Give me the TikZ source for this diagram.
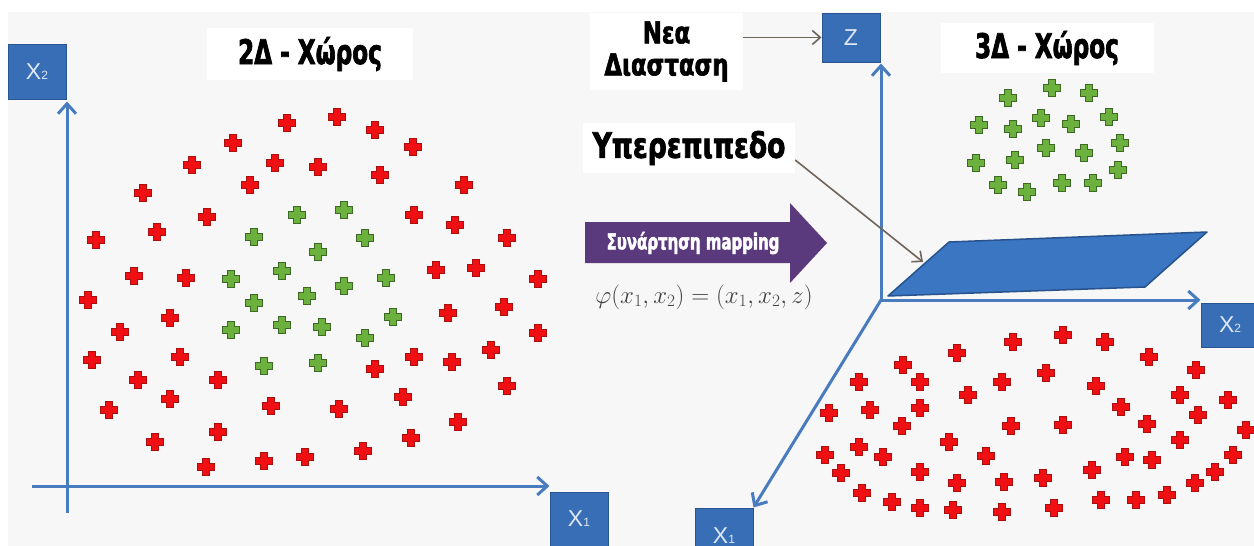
\documentclass[tikz,border=0pt]{standalone}
\usepackage{fontspec}
\usetikzlibrary{arrows.meta}
\newfontfamily\cond[FakeStretch=0.68, FakeBold=2]{DejaVu Sans Bold}
\newfontfamily\condw[FakeStretch=0.76, FakeBold=2]{DejaVu Sans Bold}
\newfontfamily\arl{Liberation Sans}
\definecolor{bgc}{RGB}{247,247,247}
\definecolor{axc}{RGB}{72,124,190}
\definecolor{boxc}{RGB}{56,110,182}
\definecolor{boxd}{RGB}{40,85,145}
\definecolor{redp}{RGB}{240,16,20}
\definecolor{redd}{RGB}{170,15,15}
\definecolor{grnp}{RGB}{108,176,62}
\definecolor{grnd}{RGB}{60,105,35}
\definecolor{purp}{RGB}{90,58,125}
\definecolor{arrg}{RGB}{110,100,90}
\definecolor{planec}{RGB}{58,118,194}
\definecolor{planed}{RGB}{40,82,140}
\definecolor{txtlab}{RGB}{222,232,244}
\begin{document}
\begin{tikzpicture}[x=1pt,y=-1pt,
  pl/.pic={\path[pic actions] (-8.3,-3.2) -- (-3.2,-3.2) -- (-3.2,-8.3) -- (3.2,-8.3) -- (3.2,-3.2) -- (8.3,-3.2) -- (8.3,3.2) -- (3.2,3.2) -- (3.2,8.3) -- (-3.2,8.3) -- (-3.2,3.2) -- (-8.3,3.2) -- cycle;},
  rp/.style={fill=redp, draw=redd, line width=0.8pt},
  gp/.style={fill=grnp, draw=grnd, line width=1.1pt},
  tbox/.style={fill=white, inner sep=0pt, align=center, font=\cond\fontsize{34}{38}\selectfont},
  axbox/.style={fill=boxc, draw=boxd, line width=1pt, inner sep=0pt, text=txtlab, font=\arl\fontsize{23}{24}\selectfont},
  axis/.style={draw=axc, line width=3pt, -{Straight Barb[length=10pt,width=18pt,line width=3pt]}},
  garrow/.style={draw=arrg, line width=1.6pt, -{Straight Barb[length=8pt,width=14pt]}}
]
\useasboundingbox (0,0) rectangle (1254,546);
\fill[white] (0,0) rectangle (1254,546);
\fill[bgc] (8,12) rectangle (1254,546);

% ---------- 2D space ----------
\node[axbox, minimum width=58pt, minimum height=55pt] (X2L) at (37,71.5) {X\raisebox{0pt}{\fontsize{12}{12}\selectfont 2}};
\node[axbox, minimum width=58pt, minimum height=54pt] (X1L) at (579,519) {X\raisebox{0pt}{\fontsize{12}{12}\selectfont 1}};
\coordinate (y0) at (67,513);
\coordinate (x0) at (32,486);
\draw[axis] (y0) -- ([yshift=-2pt]X2L.south east -| y0);
\draw[axis] (x0) -- (x0 -| X1L.west);

\foreach \a/\b in {287/123,337/117,375/130,413/147,233/143,192/165,275/163,318/167,380/175,250/185,143/193,464/185,
 96/240,157/232,207/217,414/215,455/225,507/238,134/276,186/278,436/270,476/268,538/279,88/300,170/318,448/313,504/307,
 120/332,538/333,92/360,180/357,375/369,414/357,452/362,491/350,138/380,218/380,507/386,170/399,109/410,271/406,339/409,
 403/397,458/422,155/442,218/432,411/438,363/451,206/467,264/461,305/457}
  \pic[rp] at (\a,\b) {pl};
\foreach \a/\b in {297/215,344/210,254/237,365/238,318/252,282/271,231/279,344/286,386/278,307/296,254/303,393/317,
 231/330,282/325,322/327,365/338,264/366,318/363}
  \pic[gp] at (\a,\b) {pl};

\node[tbox, minimum width=206pt, minimum height=52pt] (t2d) at (310,54) {2Δ - Χώρος};

% ---------- mapping ----------
\fill[purp] (585,222) -- (790,222) -- (790,203) -- (827,243) -- (790,283) -- (790,263) -- (585,263) -- cycle;
\node[text=white, font=\cond\fontsize{22}{24}\selectfont] (map) at (693,243) {Συνάρτηση mapping};
\node[text=black!75, font=\fontsize{26}{30}\selectfont] (phi) at (704,297) {$\varphi(x_1,x_2)=(x_1,x_2,z)$};

% ---------- 3D space ----------
\node[axbox, minimum width=58pt, minimum height=49pt] (Z) at (851,37.5) {Z};
\node[axbox, minimum width=58pt, minimum height=44pt] (X2R) at (1230,325) {X\raisebox{0pt}{\fontsize{12}{12}\selectfont 2}};
\node[axbox, minimum width=58pt, minimum height=56pt] (X1R) at (724,536) {X\raisebox{0pt}{\fontsize{12}{12}\selectfont 1}};

\filldraw[fill=planec, draw=planed, line width=1.5pt, line join=round] (888,296) -- (949,242) -- (1207,232) -- (1145,287) -- cycle;

\coordinate (O) at (881,300);
\draw[axis] (O) -- ([yshift=-1pt]Z.south east -| O);
\draw[axis] (O) -- (O -| X2R.west);
\draw[axis] (O) -- (X1R.north east);

\foreach \a/\b in {1008/98,1052/88,1089/93,979/125,1013/129,1041/118,1071/124,1109/117,1120/143,976/163,1015/160,
 1046/148,1084/153,1118/170,998/185,1027/192,1062/183,1093/183}
  \pic[gp] at (\a,\b) {pl};
\foreach \a/\b in {1013/342,1063/335,1105/342,957/353,1149/357,1196/370,903/365,920/382,859/382,1002/382,1046/373,
 968/395,1096/386,1180/395,1228/400,829/413,870/410,920/408,902/426,1121/407,1011/426,1063/425,1147/424,1198/415,
 1246/430,1180/440,859/447,949/442,825/455,883/457,986/456,1125/457,1152/460,1233/455,841/473,920/472,1092/470,
 1215/472,957/483,1004/482,1043/478,1195/483,862/493,892/502,920/508,953/510,1002/512,1054/508,1101/500,1136/500,1167/495}
  \pic[rp] at (\a,\b) {pl};

\node[tbox, minimum width=213pt, minimum height=50pt] (t3d) at (1047,48) {3Δ - Χώρος};
\node[tbox, minimum width=153pt, minimum height=77pt, font=\condw\fontsize{30}{32}\selectfont] (nea) at (666.5,51.5) {Νεα\\Διασταση};
\node[tbox, minimum width=212pt, minimum height=50pt, font=\condw\fontsize{35}{38}\selectfont] (hyp) at (689,148) {Υπερεπιπεδο};

\coordinate (plc) at (923,262);
\draw[garrow] (nea.east |- Z.west) -- (Z.west);
\draw[garrow] ([yshift=-12pt]hyp.east) -- (plc);
\end{tikzpicture}
\end{document}
